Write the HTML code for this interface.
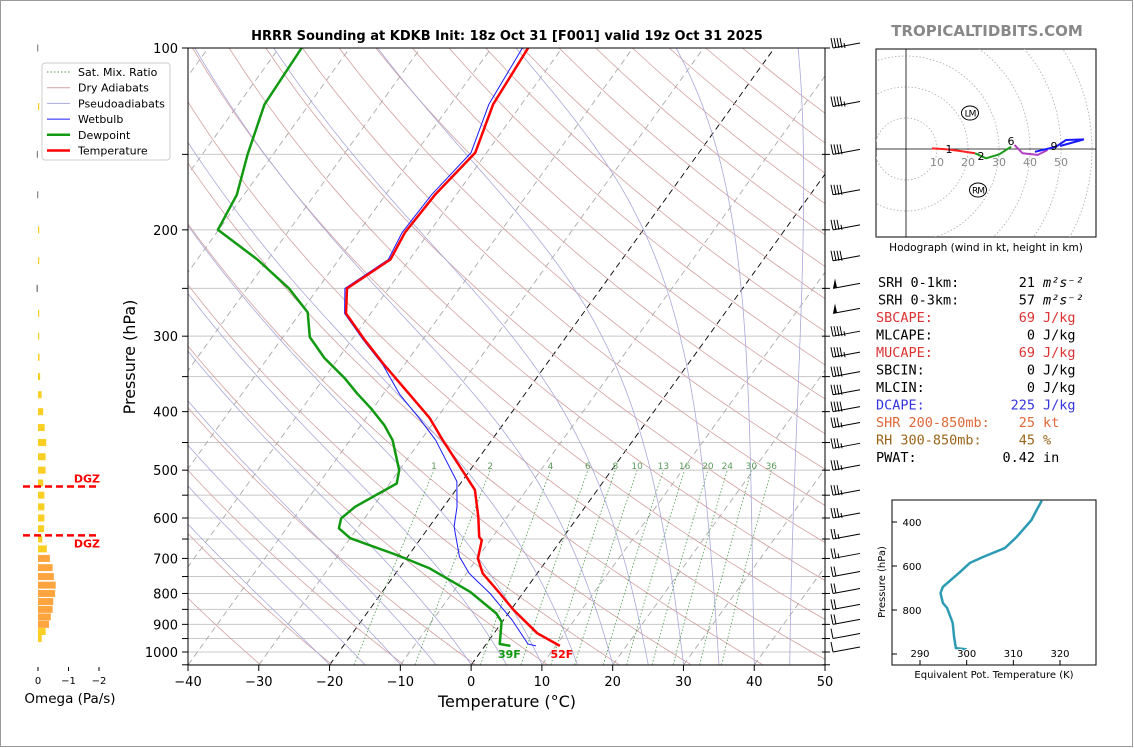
<!DOCTYPE html>
<html><head><meta charset="utf-8"><style>
body{margin:0;background:#fff;width:1134px;height:748px;overflow:hidden}
svg{display:block;font-family:"DejaVu Sans","Liberation Sans",sans-serif}
</style></head><body>
<svg id="s" width="1134" height="748" viewBox="0 0 1134 748">
<rect x="0.5" y="0.5" width="1132" height="746" fill="#fff" stroke="#999"/>
<defs>
<clipPath id="cm"><rect x="188" y="48" width="637" height="617"/></clipPath>
<clipPath id="ch"><rect x="876" y="49" width="220" height="188"/></clipPath>
<clipPath id="ct"><rect x="892" y="500" width="204" height="165"/></clipPath>
</defs>
<g id="bg" clip-path="url(#cm)"></g>
<g id="prof" clip-path="url(#cm)"></g>
<g id="ax"></g>
<text x="507" y="40" text-anchor="middle" font-size="13" font-weight="bold">HRRR Sounding at KDKB Init: 18z Oct 31 [F001] valid 19z Oct 31 2025</text>
<text x="987" y="36" text-anchor="middle" font-size="15" font-weight="bold" fill="#888">TROPICALTIDBITS.COM</text>
<text x="507" y="707" text-anchor="middle" font-size="16">Temperature (°C)</text>
<text transform="translate(135,357) rotate(-90)" text-anchor="middle" font-size="16">Pressure (hPa)</text>
<g id="leg">
<rect x="42" y="63" width="128" height="97" rx="3" fill="#fff" stroke="#ccc"/>
</g>
<g id="om"></g>
<g id="hodo"></g>
<g id="txt" font-family="'DejaVu Sans Mono','Liberation Mono',monospace" font-size="13.5"></g>
<g id="te"></g>
</svg>
<script>
// ---- data ----
const tempP=[977,931,852,800,741,700,653,645,597,539,506,446,410,375,335,304,275,250,224,202,175,149,124,100];
const tempT=[10.6,6.1,0.4,-3.2,-7.7,-9.9,-11.2,-11.9,-14.1,-17.3,-20.5,-26.9,-31.0,-36.2,-42.8,-48.2,-53.5,-55.9,-52.7,-53.4,-53.0,-51.6,-54.0,-54.8];
const dewP=[977,970,891,863,795,727,691,648,624,601,575,526,500,446,421,395,373,352,326,301,274,250,224,200,175,150,124,100];
const dewT=[3.6,1.9,-0.1,-1.7,-7.6,-15.7,-21.7,-30.0,-32.6,-33.3,-32.5,-29.0,-30.0,-34.0,-36.7,-40.3,-43.8,-47.1,-52.0,-56.2,-59.0,-64.1,-71.5,-80.1,-81.0,-83.6,-86.3,-86.8];
const wbP=[977,970,885,800,741,695,620,575,522,446,410,375,335,304,275,250,224,202,175,149,124,100];
const wbT=[7.2,5.9,1.2,-4.6,-9.6,-12.7,-16.5,-18.1,-20.7,-27.9,-32.5,-37.6,-43.0,-48.4,-53.7,-56.2,-53.0,-53.8,-53.5,-52.2,-54.6,-55.6];
const mixW=[1,2,4,6,8,10,13,16,20,24,30,36];
const pTicks=[100,200,300,400,500,600,700,800,900,1000];
const tTicks=[-40,-30,-20,-10,0,10,20,30,40,50];
const barbP=[100,125,150,175,200,225,250,275,300,325,350,375,400,425,460,500,550,600,650,700,750,800,850,900,950,1000];
const barbS=[45,45,40,40,35,40,50,50,45,45,40,40,40,35,35,35,35,35,25,25,20,20,20,20,10,10];
const omP=[950,925,900,875,850,825,800,775,750,725,700,675,650,625,600,575,550,525,500,475,450,425,400,375,350,325,300,275,250,225,200,175,150,125,100];
const omW=[-0.12,-0.25,-0.36,-0.42,-0.48,-0.5,-0.56,-0.58,-0.52,-0.48,-0.39,-0.29,-0.14,-0.2,-0.21,-0.21,-0.21,-0.17,-0.25,-0.25,-0.27,-0.22,-0.17,-0.12,-0.07,-0.05,-0.03,-0.02,0.05,-0.01,-0.02,0.03,0.04,-0.01,0.03];
const dgzP=[532,641];
const hodoSegU=[[8.4,12.9,17.2,22.3],[22.3,25.8,30.1,33.9],[35,37.6,42.5,45.7],[41.6,48.4,51.6,57.4,49.7]];
const hodoSegV=[[0.2,-0.1,-0.6,-1.4],[-1.4,-3.0,-1.7,0.75],[1.3,-1.4,-1.9,-0.3],[-0.9,0.75,2.9,3.1,0.97]];
const hodoCol=['#ff2020','#1a9a1a','#b040c0','#1a1aff'];
const thetaE=[300.0,297.7,297.3,297.0,295.8,294.9,294.4,294.9,298.6,300.7,303.5,308.2,310.7,313.9,315.0,316.1];
const thetaP=[979,973,923,859,791,768,723,695,627,586,559,518,468,391,345,303];
const tePTicks=[400,600,800];
const teXTicks=[290,300,310,320];

// ---- helpers ----
const NS='http://www.w3.org/2000/svg';
function el(tag,attrs,parent){const e=document.createElementNS(NS,tag);for(const k in attrs)e.setAttribute(k,attrs[k]);parent.appendChild(e);return e;}
const Y=p=>48+604*Math.log10(p/100);
const X=(T,p)=>188+(T+40)*7.078+0.721*(665-Y(p));
const G=id=>document.getElementById(id);
function poly(pts){return pts.map((q,i)=>(i?'L':'M')+q[0].toFixed(1)+' '+q[1].toFixed(1)).join('');}

// ---- background ----
const bg=G('bg');
for(let p=100;p<=1050;p+=50){const l=el('line',{x1:188,x2:825,y1:Y(p),y2:Y(p),stroke:'#c8c8c8','stroke-width':1},bg);
}
for(let T=-130;T<=50;T+=10){const blk=(T===0||T===-20);
const l=el('line',{x1:X(T,1050),y1:Y(1050),x2:X(T,100),y2:Y(100),stroke:blk?'#000':'#aaa','stroke-width':0.9,'stroke-dasharray':'6,4'},bg);
}
for(let th=240;th<=480;th+=10){const pts=[];for(let p=1050;p>=100;p-=10)pts.push([X(th*Math.pow(p/1000,0.2857)-273.15,p),Y(p)]);
const l=el('path',{d:poly(pts),fill:'none',stroke:'#d4a0a0','stroke-width':0.8},bg);
}
function es(Tc){return 6.112*Math.exp(17.67*Tc/(Tc+243.5));}
for(let T0=-20;T0<=45;T0+=5){let T=T0+273.15;const pts=[];
for(let p=1050;p>=100;p-=5){pts.push([X(T-273.15,p),Y(p)]);const e=es(T-273.15),rs=0.622*e/(p-e);
const dTdp=(1/p)*(287*T+2.5e6*rs)/(1004+2.5e6*2.5e6*rs*0.622/(287*T*T));T-=5*dTdp;}
const l=el('path',{d:poly(pts),fill:'none',stroke:'#a8a8dc','stroke-width':0.8},bg);
}
mixW.forEach(w=>{const pts=[];for(let p=1050;p>=500;p-=10){const e=p*w/(622+w),L=Math.log(e/6.112);pts.push([X(243.5*L/(17.67-L),p),Y(p)]);}
const l=el('path',{d:poly(pts),fill:'none',stroke:'#4a9a4a','stroke-width':0.8,'stroke-dasharray':'1.5,2'},bg);

const t=el('text',{x:pts[pts.length-1][0],y:469,'font-size':9,fill:'#5a9a5a','text-anchor':'middle'},bg);t.textContent=w;
});

// ---- profiles ----
const pr=G('prof');
function prof(P,T,col,w,name){const l=el('path',{d:poly(P.map((p,i)=>[X(T[i],p),Y(p)])),fill:'none',stroke:col,'stroke-width':w,'stroke-linejoin':'round'},pr);
}
prof(wbP,wbT,'#1a1aff',1,'wetbulb-line');
prof(dewP,dewT,'#119911',2.5,'dewpoint-line');
prof(tempP,tempT,'#ff0000',2.5,'temperature-line');
const ax=G('ax');
let t=el('text',{x:X(dewT[0],dewP[0])-1,y:658,'font-size':11,'font-weight':'bold',fill:'#119911','text-anchor':'middle'},ax);t.textContent='39F';

t=el('text',{x:X(tempT[0],tempP[0])+2,y:658,'font-size':11,'font-weight':'bold',fill:'#ff0000','text-anchor':'middle'},ax);t.textContent='52F';


// ---- axes ----
el('rect',{x:188,y:48,width:637,height:617,fill:'none',stroke:'#000','stroke-width':1},ax);
for(let p=100;p<=1050;p+=50){const y=Y(p);el('line',{x1:182,x2:188,y1:y,y2:y,stroke:'#000'},ax);el('line',{x1:822,x2:830,y1:y,y2:y,stroke:'#000'},ax);}
pTicks.forEach(p=>{const t=el('text',{x:178,y:Y(p)+5,'font-size':13,'text-anchor':'end'},ax);t.textContent=p;
});
tTicks.forEach(T=>{const x=188+(T+40)*7.078;el('line',{x1:x,x2:x,y1:665,y2:671,stroke:'#000'},ax);
const t=el('text',{x:x,y:686,'font-size':13,'text-anchor':'middle'},ax);t.textContent=T<0?'\u2212'+(-T):T;
});
// wind barbs
barbP.forEach((p,i)=>{const g=el('g',{},ax);
const y=Y(p),x0=833,x1=860,y1=y-5;el('line',{x1:x0,y1:y,x2:x1,y2:y1,stroke:'#000','stroke-width':1},g);
let s=barbS[i],x=x0;if(s>=50){el('polygon',{points:`${x},${y} ${x+4},${y-1} ${x+2},${y-10}`,fill:'#000'},g);x+=6;s-=50;}
while(s>=10){el('line',{x1:x,y1:y,x2:x-2,y2:y-10,stroke:'#000'},g);x+=3;s-=10;}
if(s>=5){el('line',{x1:x,y1:y,x2:x-1,y2:y-5,stroke:'#000'},g);}});

// ---- legend ----
const lg=G('leg');
[['Sat. Mix. Ratio','#4a9a4a',1,'1.5,2'],['Dry Adiabats','#d4a0a0',1,''],['Pseudoadiabats','#a8a8dc',1,''],['Wetbulb','#1a1aff',1,''],['Dewpoint','#119911',2.5,''],['Temperature','#ff0000',2.5,'']].forEach((e,i)=>{
const y=72+i*15.7;const g=el('g',{},lg);
el('line',{x1:47,x2:70,y1:y,y2:y,stroke:e[1],'stroke-width':e[2],'stroke-dasharray':e[3]},g);
const t=el('text',{x:78,y:y+4,'font-size':11},g);t.textContent=e[0];});

// ---- omega ----
const om=G('om');
omP.forEach((p,i)=>{const w=omW[i],len=-w*30.5,y=Y(p);const a=Math.abs(w);
const col=w>0?'#888':(a>=0.3?'#ffa53f':'#f9cf23');
const r=el('rect',{x:Math.min(38,38+len),y:y-3.5,width:Math.max(1.2,Math.abs(len)),height:7,fill:col},om);
});
dgzP.forEach((p,i)=>{const y=Y(p);const l=el('line',{x1:23,x2:99,y1:y,y2:y,stroke:'#ff0000','stroke-width':2.5,'stroke-dasharray':'7,4'},om);

const t=el('text',{x:100,y:i?y+12:y-4,'font-size':11,'font-weight':'bold',fill:'#ff0000','text-anchor':'end'},om);t.textContent='DGZ';
});
[0,-1,-2].forEach(v=>{const x=38-v*30.5;el('line',{x1:x,x2:x,y1:667,y2:671,stroke:'#000'},om);
const t=el('text',{x:x,y:684,'font-size':10,'text-anchor':'middle'},om);t.textContent=v?'\u2212'+(-v):'0';});
t=el('text',{x:70,y:703,'font-size':13.5,'text-anchor':'middle'},om);t.textContent='Omega (Pa/s)';


// ---- hodograph ----
const hd=G('hodo');const hx=906,hy=149,k=3.1;
el('rect',{x:876,y:49,width:220,height:188,fill:'#fff',stroke:'#000'},hd);
const hc=el('g',{'clip-path':'url(#ch)'},hd);
for(let r=10;r<=80;r+=10)el('circle',{cx:hx,cy:hy,r:r*k,fill:'none',stroke:'#aaa','stroke-width':0.8,'stroke-dasharray':'1.5,2'},hc);
el('line',{x1:hx,x2:hx,y1:49,y2:237,stroke:'#000','stroke-width':0.8},hc);
el('line',{x1:876,x2:1096,y1:hy,y2:hy,stroke:'#000','stroke-width':0.8},hc);
[10,20,30,40,50].forEach(r=>{const t=el('text',{x:hx+r*k,y:hy+17,'font-size':11,fill:'#888','text-anchor':'middle'},hc);t.textContent=r;});
hodoSegU.forEach((us,j)=>{const l=el('path',{d:poly(us.map((u,i)=>[hx+u*k,hy-hodoSegV[j][i]*k])),fill:'none',stroke:hodoCol[j],'stroke-width':2},hc);
});
[['1',949,153],['2',981,160],['6',1011,145],['9',1054,150]].forEach(a=>{const t=el('text',{x:a[1],y:a[2],'font-size':11,'text-anchor':'middle'},hc);t.textContent=a[0];});
[['LM',970,113],['RM',978,190]].forEach(a=>{el('ellipse',{cx:a[1],cy:a[2],rx:8.5,ry:7,fill:'none',stroke:'#000'},hc);
const t=el('text',{x:a[1],y:a[2]+3.5,'font-size':9,'text-anchor':'middle','letter-spacing':'-1'},hc);t.textContent=a[0];});
t=el('text',{x:986,y:251,'font-size':10.5,'text-anchor':'middle'},hd);t.textContent='Hodograph (wind in kt, height in km)';


// ---- indices ----
const tx=G('txt');
[['SRH 0-1km:','21','m²s⁻²','#000'],['SRH 0-3km:','57','m²s⁻²','#000'],['SBCAPE:','69','J/kg','#dd3333'],['MLCAPE:','0','J/kg','#000'],['MUCAPE:','69','J/kg','#dd3333'],['SBCIN:','0','J/kg','#000'],['MLCIN:','0','J/kg','#000'],['DCAPE:','225','J/kg','#3535dd'],['SHR 200-850mb:','25','kt','#e0683a'],['RH 300-850mb:','45','%','#9b651c'],['PWAT:','0.42','in','#000']].forEach((r,i)=>{
const y=287+i*17.5;const g=el('g',{fill:r[3]},tx);
let t=el('text',{x:i<2?878:876,y:y},g);t.textContent=r[0];
t=el('text',{x:1035,y:y,'text-anchor':'end'},g);t.textContent=r[1];
t=el('text',{x:1043,y:y,'font-style':i<2?'italic':'normal'},g);t.textContent=r[2];});

// ---- theta-e inset ----
const te=G('te');const TX=v=>920+(v-290)*4.667,TY=p=>522+(p-400)*0.22;
el('rect',{x:892,y:500,width:204,height:165,fill:'#fff',stroke:'#000'},te);
const tl=el('path',{d:poly(thetaE.map((v,i)=>[TX(v),TY(thetaP[i])])),fill:'none',stroke:'#2e9bb5','stroke-width':2.5,'clip-path':'url(#ct)'},te);

tePTicks.forEach(p=>{el('line',{x1:892,x2:897,y1:TY(p),y2:TY(p),stroke:'#000'},te);
const t=el('text',{x:912,y:TY(p)+4,'font-size':10,'text-anchor':'middle'},te);t.textContent=p;});
el('line',{x1:892,x2:897,y1:TY(1000),y2:TY(1000),stroke:'#000'},te);
teXTicks.forEach(v=>{el('line',{x1:TX(v),x2:TX(v),y1:660,y2:665,stroke:'#000'},te);
const t=el('text',{x:TX(v),y:657,'font-size':10,'text-anchor':'middle',fill:'#000',stroke:'#fff','stroke-width':2,'paint-order':'stroke'},te);t.textContent=String(v);
});
t=el('text',{x:994,y:678,'font-size':10,'text-anchor':'middle'},te);t.textContent='Equivalent Pot. Temperature (K)';
t=el('text',{transform:'translate(885,582) rotate(-90)','font-size':10,'text-anchor':'middle'},te);t.textContent='Pressure (hPa)';
</script>
</body></html>
